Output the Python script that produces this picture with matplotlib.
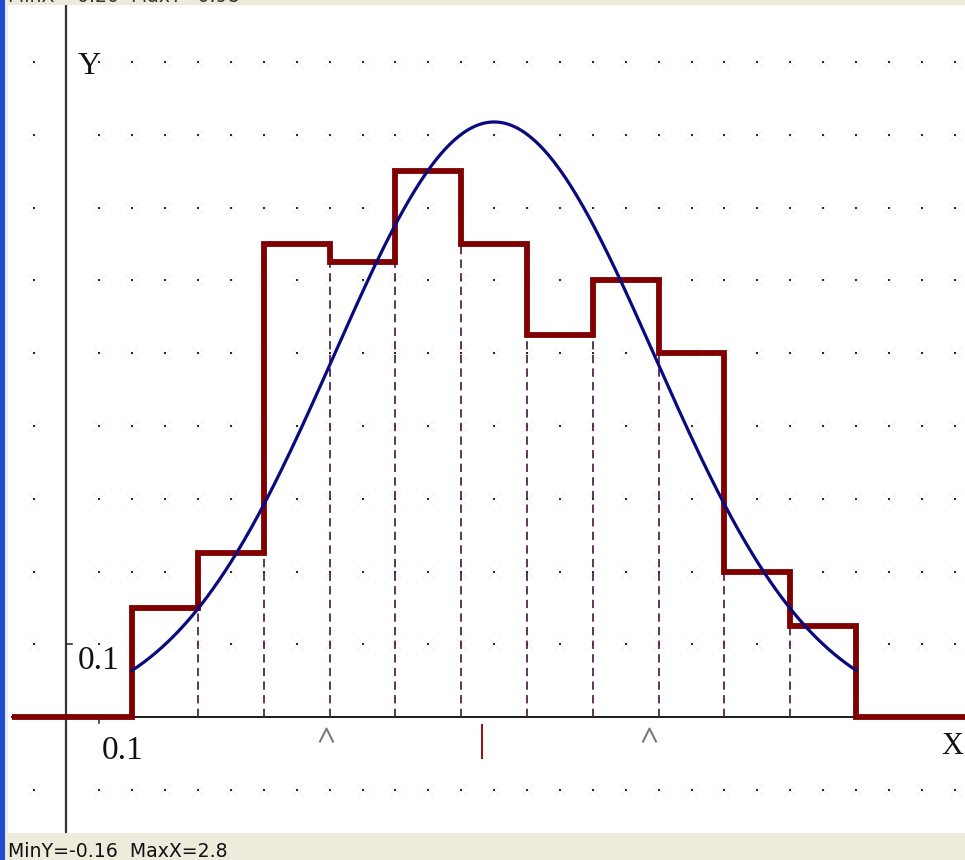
import numpy as np
import matplotlib
matplotlib.use("Agg")
import matplotlib.pyplot as plt
from matplotlib.path import Path
from matplotlib.patches import Rectangle

plt.rcParams["lines.scale_dashes"] = False

# histogram (density scale): bin edges and heights
bin_edges = [0.2, 0.4, 0.6, 0.8, 1.0, 1.2, 1.4, 1.6, 1.8, 2.0, 2.2, 2.4]
density = [0.15, 0.225, 0.65, 0.625, 0.75, 0.65, 0.525, 0.6, 0.5, 0.2, 0.125]

# fitted normal curve
mu = 1.30
sigma = 0.488

# sample mean and the spread marks below the axis
sample_mean = 1.262
spread_marks = [0.79, 1.77]

# axis ticks
x_ticks = [0.1]
x_tick_labels = ["0.1"]
y_ticks = [0.1]
y_tick_labels = ["0.1"]

status_text = "MinY=-0.16  MaxX=2.8"
header_text = "MinX=-0.20  MaxY=0.98"

W, H = 965, 860
xmin, xmax = -0.202, 2.731
ymin, ymax = -0.196, 0.985

fig = plt.figure(figsize=(W / 100, H / 100), dpi=100)
ax = fig.add_axes([0, 0, 1, 1])
ax.set_xlim(xmin, xmax)
ax.set_ylim(ymin, ymax)
ax.axis("off")

serif = ["Liberation Serif", "DejaVu Serif"]

# dotted background grid every 0.1
gx = np.round(np.arange(-0.1, 2.75, 0.1), 2)
gy = np.round(np.arange(-0.1, 0.95, 0.1), 2)
gx = gx[np.abs(gx) > 1e-9]
gy = gy[np.abs(gy) > 1e-9]
GX, GY = np.meshgrid(gx, gy)
ax.scatter(GX, GY, s=70, marker="x", c="#f3f3f3", linewidths=1.0, zorder=1)
ax.scatter(GX, GY, s=2.4, marker="s", c="#2a2a2a", linewidths=0, zorder=1.5)

# coordinate axes
ax.plot([-0.167, xmax], [0, 0], color="#1a1a1a", lw=1.4, zorder=2)
ax.plot([0, 0], [-0.159, 0.978], color="#333333", lw=1.6, zorder=2)
for t in x_ticks:
    ax.plot([t, t], [0, -0.008], color="#333333", lw=1.2, zorder=2)
for t in y_ticks:
    ax.plot([0, 0.017], [t, t], color="#333333", lw=1.2, zorder=2)
for t, lab in zip(x_ticks, x_tick_labels):
    ax.text(t + 0.006, -0.046, lab, family=serif, fontsize=24,
            ha="left", va="center", color="#111111")
for t, lab in zip(y_ticks, y_tick_labels):
    ax.text(0.033, t - 0.023, lab, family=serif, fontsize=24,
            ha="left", va="center", color="#111111")
ax.text(0.068, 0.893, "Y", family=serif, fontsize=23,
        ha="center", va="center", color="#111111")
ax.text(xmax - 0.006, -0.04, "X", family=serif, fontsize=22,
        ha="right", va="center", color="#111111")

edges = np.array(bin_edges)
h = np.array(density)

# dashed dividers between neighbouring bins
inner = edges[1:-1]
tops = np.minimum(h[:-1], h[1:])
ax.vlines(inner, 0, tops, colors="#55254f", linestyles=(0, (6, 3.8)),
          linewidth=1.3, zorder=2.5)

# histogram outline, continuing along the baseline on both sides
xs = np.concatenate([[-0.167], np.repeat(edges, 2), [xmax]])
ys = np.concatenate([[0, 0], np.repeat(h, 2), [0, 0]])
ax.plot(xs, ys, color="#800000", lw=4.2, solid_joinstyle="miter",
        solid_capstyle="butt", zorder=3)

# normal density over the histogram range
cx = np.linspace(edges[0], edges[-1], 500)
cy = np.exp(-0.5 * ((cx - mu) / sigma) ** 2) / (sigma * np.sqrt(2 * np.pi))
ax.plot(cx, cy, color="#0a0a80", lw=2.3, zorder=4)

# mean and spread marks under the x axis
ax.plot([sample_mean, sample_mean], [-0.011, -0.056], color="#8b1a1a",
        lw=1.5, zorder=3)
chevron = Path([(-1, -1), (0, 1), (1, -1)],
               [Path.MOVETO, Path.LINETO, Path.LINETO])
ax.plot(spread_marks, [-0.024] * len(spread_marks), linestyle="none",
        marker=chevron, ms=10, mfc="none", mec="#7a7a7a", mew=1.5, zorder=3)

# window frame: header strip, status bar, left border
fig.patches.append(Rectangle((0, 1 - 5 / H), 1, 5 / H, transform=fig.transFigure,
                             facecolor="#ecead9", edgecolor="none", zorder=10))
fig.patches.append(Rectangle((0, 0), 1, 27 / H, transform=fig.transFigure,
                             facecolor="#ecebdc", edgecolor="none", zorder=10))
fig.patches.append(Rectangle((0, 0), 5 / W, 1, transform=fig.transFigure,
                             facecolor="#1f4bd2", edgecolor="none", zorder=11))
fig.patches.append(Rectangle((5 / W, 27 / H), 3 / W, 1 - 32 / H, transform=fig.transFigure,
                             facecolor="#e6ecf8", edgecolor="none", zorder=11))
fig.text(8 / W, 3 / H, status_text, fontsize=13.6, family="DejaVu Sans",
         color="#111111", ha="left", va="baseline", zorder=12)
fig.text(8 / W, 1 - 2 / H, header_text, fontsize=13.6, family="DejaVu Sans",
         color="#333333", ha="left", va="baseline", zorder=12)

fig.savefig("out.png", dpi=100)
